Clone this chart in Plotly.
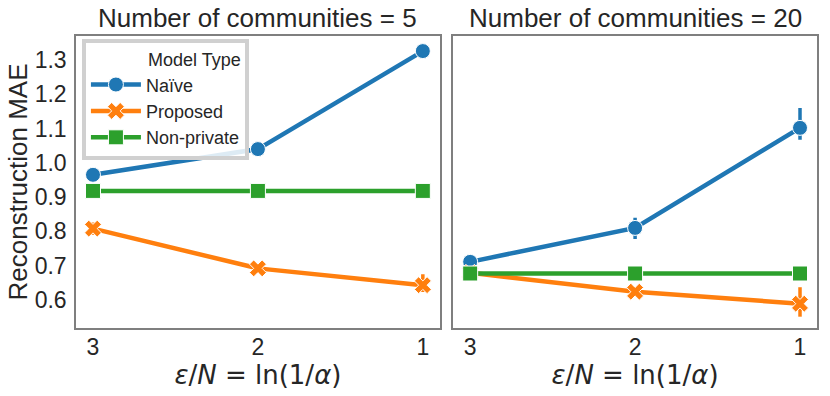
import plotly.graph_objects as go
from plotly.subplots import make_subplots

eps = [3, 2, 1]
panels = ["Number of communities = 5", "Number of communities = 20"]
models = ["Naïve", "Proposed", "Non-private"]

# mean MAE per panel and model
naive_5 = [0.965, 1.04, 1.326]
proposed_5 = [0.808, 0.692, 0.643]
nonpriv_5 = [0.918, 0.918, 0.918]
naive_20 = [0.711, 0.81, 1.102]
proposed_20 = [0.679, 0.624, 0.589]
nonpriv_20 = [0.677, 0.677, 0.677]

# error bar half-widths (up, down)
naive_5_up = [0.004, 0.006, 0.006]
naive_5_dn = [0.004, 0.006, 0.006]
proposed_5_up = [0.018, 0.008, 0.032]
proposed_5_dn = [0.018, 0.008, 0.02]
naive_20_up = [0.006, 0.03, 0.058]
naive_20_dn = [0.006, 0.032, 0.035]
proposed_20_up = [0.004, 0.008, 0.048]
proposed_20_dn = [0.004, 0.008, 0.038]
nonpriv_up = [0, 0, 0]

colors = {"Naïve": "#1f77b4", "Proposed": "#ff7f0e", "Non-private": "#2ca02c"}
symbols = {"Naïve": "circle", "Proposed": "x", "Non-private": "square"}

data = [
    {"Naïve": (naive_5, naive_5_up, naive_5_dn),
     "Proposed": (proposed_5, proposed_5_up, proposed_5_dn),
     "Non-private": (nonpriv_5, nonpriv_up, nonpriv_up)},
    {"Naïve": (naive_20, naive_20_up, naive_20_dn),
     "Proposed": (proposed_20, proposed_20_up, proposed_20_dn),
     "Non-private": (nonpriv_20, nonpriv_up, nonpriv_up)},
]

fig = make_subplots(rows=1, cols=2, shared_yaxes=True, horizontal_spacing=0.018,
                    subplot_titles=panels)

for c, d in enumerate(data, start=1):
    for m in models:
        y, up, dn = d[m]
        fig.add_trace(go.Scatter(
            x=eps, y=y, mode="lines+markers", name=m,
            legendgroup=m, showlegend=(c == 1),
            line=dict(color=colors[m], width=4.5),
            marker=dict(symbol=symbols[m], size=15, color=colors[m],
                        line=dict(color="white", width=1)),
            error_y=dict(type="data", array=up, arrayminus=dn, symmetric=False,
                         color=colors[m], thickness=3.5, width=0),
        ), row=1, col=c)

font = "Liberation Sans, Arial, sans-serif"
for c in (1, 2):
    fig.update_xaxes(row=1, col=c, range=[3.103, 0.897], tickvals=eps,
                     ticktext=[str(e) for e in eps], showgrid=False, zeroline=False,
                     showline=True, mirror=True, linecolor="#7f7f7f", linewidth=1.5,
                     ticks="", tickfont=dict(size=23, color="#262626"),
                     automargin=False, ticklabelstandoff=-2,
                     title=dict(text="<i>ε</i>/<i>N</i> = ln(1/<i>α</i>)",
                                font=dict(size=26, family="DejaVu Sans", color="#262626"),
                                standoff=0))
    fig.update_yaxes(row=1, col=c, range=[0.518, 1.37], dtick=0.1, tickformat=".1f",
                     showgrid=False, zeroline=False, showline=True, mirror=True,
                     linecolor="#7f7f7f", linewidth=1.5, ticks="", automargin=False,
                     ticklabelstandoff=3,
                     tickfont=dict(size=23, color="#262626"))
fig.update_yaxes(row=1, col=1, title=dict(text="Reconstruction MAE",
                 font=dict(size=26, color="#262626"), standoff=0))

for a in fig.layout.annotations:
    a.font = dict(size=26, color="#262626", family=font)
    a.yshift = 1

fig.update_layout(
    width=830, height=396,
    margin=dict(l=76, r=13, t=36, b=68),
    plot_bgcolor="white", paper_bgcolor="white",
    font=dict(family=font, color="#262626"),
    legend=dict(x=0.008, y=0.99, xanchor="left", yanchor="top",
                title=dict(text="            Model Type", font=dict(size=18)),
                font=dict(size=18), bgcolor="rgba(255,255,255,0.85)",
                bordercolor="#d0d0d0", borderwidth=4, itemwidth=50,
                tracegroupgap=0),
)

fig.write_html("out.html", config={"displayModeBar": False},
               post_script="document.body.style.margin='0';")
